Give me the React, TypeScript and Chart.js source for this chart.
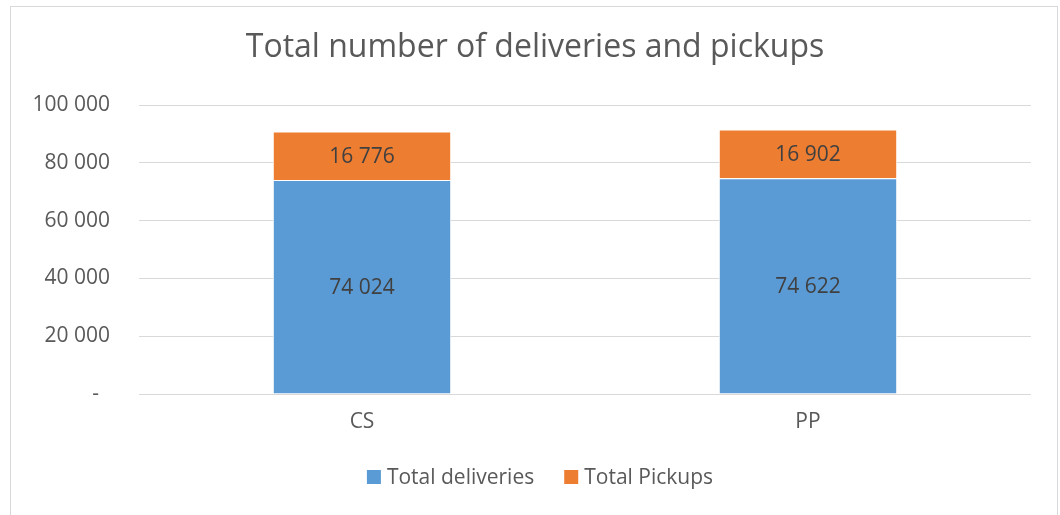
import React, { useEffect, useRef } from "react";
import { Chart, registerables } from "chart.js";

Chart.register(...registerables);

const TITLE = "Total number of deliveries and pickups";
const CATEGORIES = ["CS", "PP"];
const DELIVERIES = [74024, 74622];
const PICKUPS = [16776, 16902];
const SERIES_NAMES = ["Total deliveries", "Total Pickups"];
const SERIES_COLORS = ["#5B9BD5", "#ED7D31"];
const Y_MAX = 100000;
const Y_STEP = 20000;

const FONT = "'Open Sans', 'Liberation Sans', sans-serif";

function fmt(v: number): string {
  if (v === 0) return "-  ";
  return Math.round(v).toString().replace(/\B(?=(\d{3})+(?!\d))/g, " ");
}

const decorPlugin = {
  id: "decor",
  afterDatasetsDraw(chart: any) {
    const ctx = chart.ctx;
    ctx.save();
    ctx.font = `21px ${FONT}`;
    ctx.fillStyle = "#404040";
    ctx.textAlign = "center";
    ctx.textBaseline = "middle";
    chart.data.datasets.forEach((ds: any, di: number) => {
      const meta = chart.getDatasetMeta(di);
      meta.data.forEach((el: any, i: number) => {
        const y = (el.y + el.base) / 2;
        ctx.fillText(fmt(ds.data[i]), el.x, y + 1);
      });
    });
    ctx.restore();
  },
  afterDraw(chart: any) {
    const ctx = chart.ctx;
    ctx.save();
    ctx.font = `32px ${FONT}`;
    ctx.fillStyle = "#595959";
    ctx.textAlign = "center";
    ctx.textBaseline = "middle";
    ctx.fillText(TITLE, 535, 48);
    ctx.font = `21px ${FONT}`;
    ctx.textAlign = "left";
    const box = 14;
    const gapBoxText = 6;
    const gapItems = 30;
    const widths = SERIES_NAMES.map((n) => ctx.measureText(n).width);
    let total = 0;
    widths.forEach((w, i) => {
      total += box + gapBoxText + w + (i < widths.length - 1 ? gapItems : 0);
    });
    let x = 540 - total / 2;
    const cy = 477;
    SERIES_NAMES.forEach((n, i) => {
      ctx.fillStyle = SERIES_COLORS[i];
      ctx.fillRect(x, cy - box / 2, box, box);
      x += box + gapBoxText;
      ctx.fillStyle = "#595959";
      ctx.fillText(n, x, cy + 1);
      x += widths[i] + gapItems;
    });
    ctx.restore();
  },
};

export default function App() {
  const ref = useRef<HTMLCanvasElement | null>(null);
  useEffect(() => {
    if (!ref.current) return;
    const chart = new Chart(ref.current, {
      type: "bar",
      data: {
        labels: CATEGORIES,
        datasets: [
          {
            label: SERIES_NAMES[0],
            data: DELIVERIES,
            backgroundColor: SERIES_COLORS[0],
            borderColor: "#ffffff",
            borderWidth: 1,
            borderSkipped: "start",
            barPercentage: 0.4,
            categoryPercentage: 1,
          },
          {
            label: SERIES_NAMES[1],
            data: PICKUPS,
            backgroundColor: SERIES_COLORS[1],
            borderColor: "#ffffff",
            borderWidth: 1,
            borderSkipped: "start",
            barPercentage: 0.4,
            categoryPercentage: 1,
          },
        ],
      },
      options: {
        responsive: false,
        animation: false,
        layout: { padding: { left: 0, right: 29, top: 105, bottom: 81 } },
        plugins: {
          legend: { display: false },
          title: { display: false },
          tooltip: { enabled: false },
        },
        scales: {
          x: {
            stacked: true,
            grid: { display: false, drawTicks: false },
            border: { display: false },
            ticks: {
              color: "#595959",
              font: { family: FONT, size: 21 },
              padding: 15,
            },
            afterFit: (s: any) => {
              s.height = 40;
            },
          },
          y: {
            stacked: true,
            min: 0,
            max: Y_MAX,
            grid: { color: "#d9d9d9", lineWidth: 1, drawTicks: false },
            border: { display: false },
            ticks: {
              stepSize: Y_STEP,
              color: "#595959",
              font: { family: FONT, size: 21 },
              padding: 29,
              callback: (v: any) => fmt(Number(v)),
            },
            afterFit: (s: any) => {
              s.width = 139;
            },
          },
        },
      },
      plugins: [decorPlugin],
    });
    return () => chart.destroy();
  }, []);
  return (
    <div
      style={{
        position: "fixed",
        left: 0,
        top: 0,
        width: 1060,
        height: 515,
        background: "#ffffff",
      }}
    >
      <div
        style={{
          position: "absolute",
          left: 10,
          top: 6,
          width: 1048,
          height: 520,
          border: "1px solid #d9d9d9",
          boxSizing: "border-box",
        }}
      />
      <canvas
        ref={ref}
        width={1060}
        height={515}
        style={{ position: "absolute", left: 0, top: 0, width: 1060, height: 515 }}
      />
    </div>
  );
}
